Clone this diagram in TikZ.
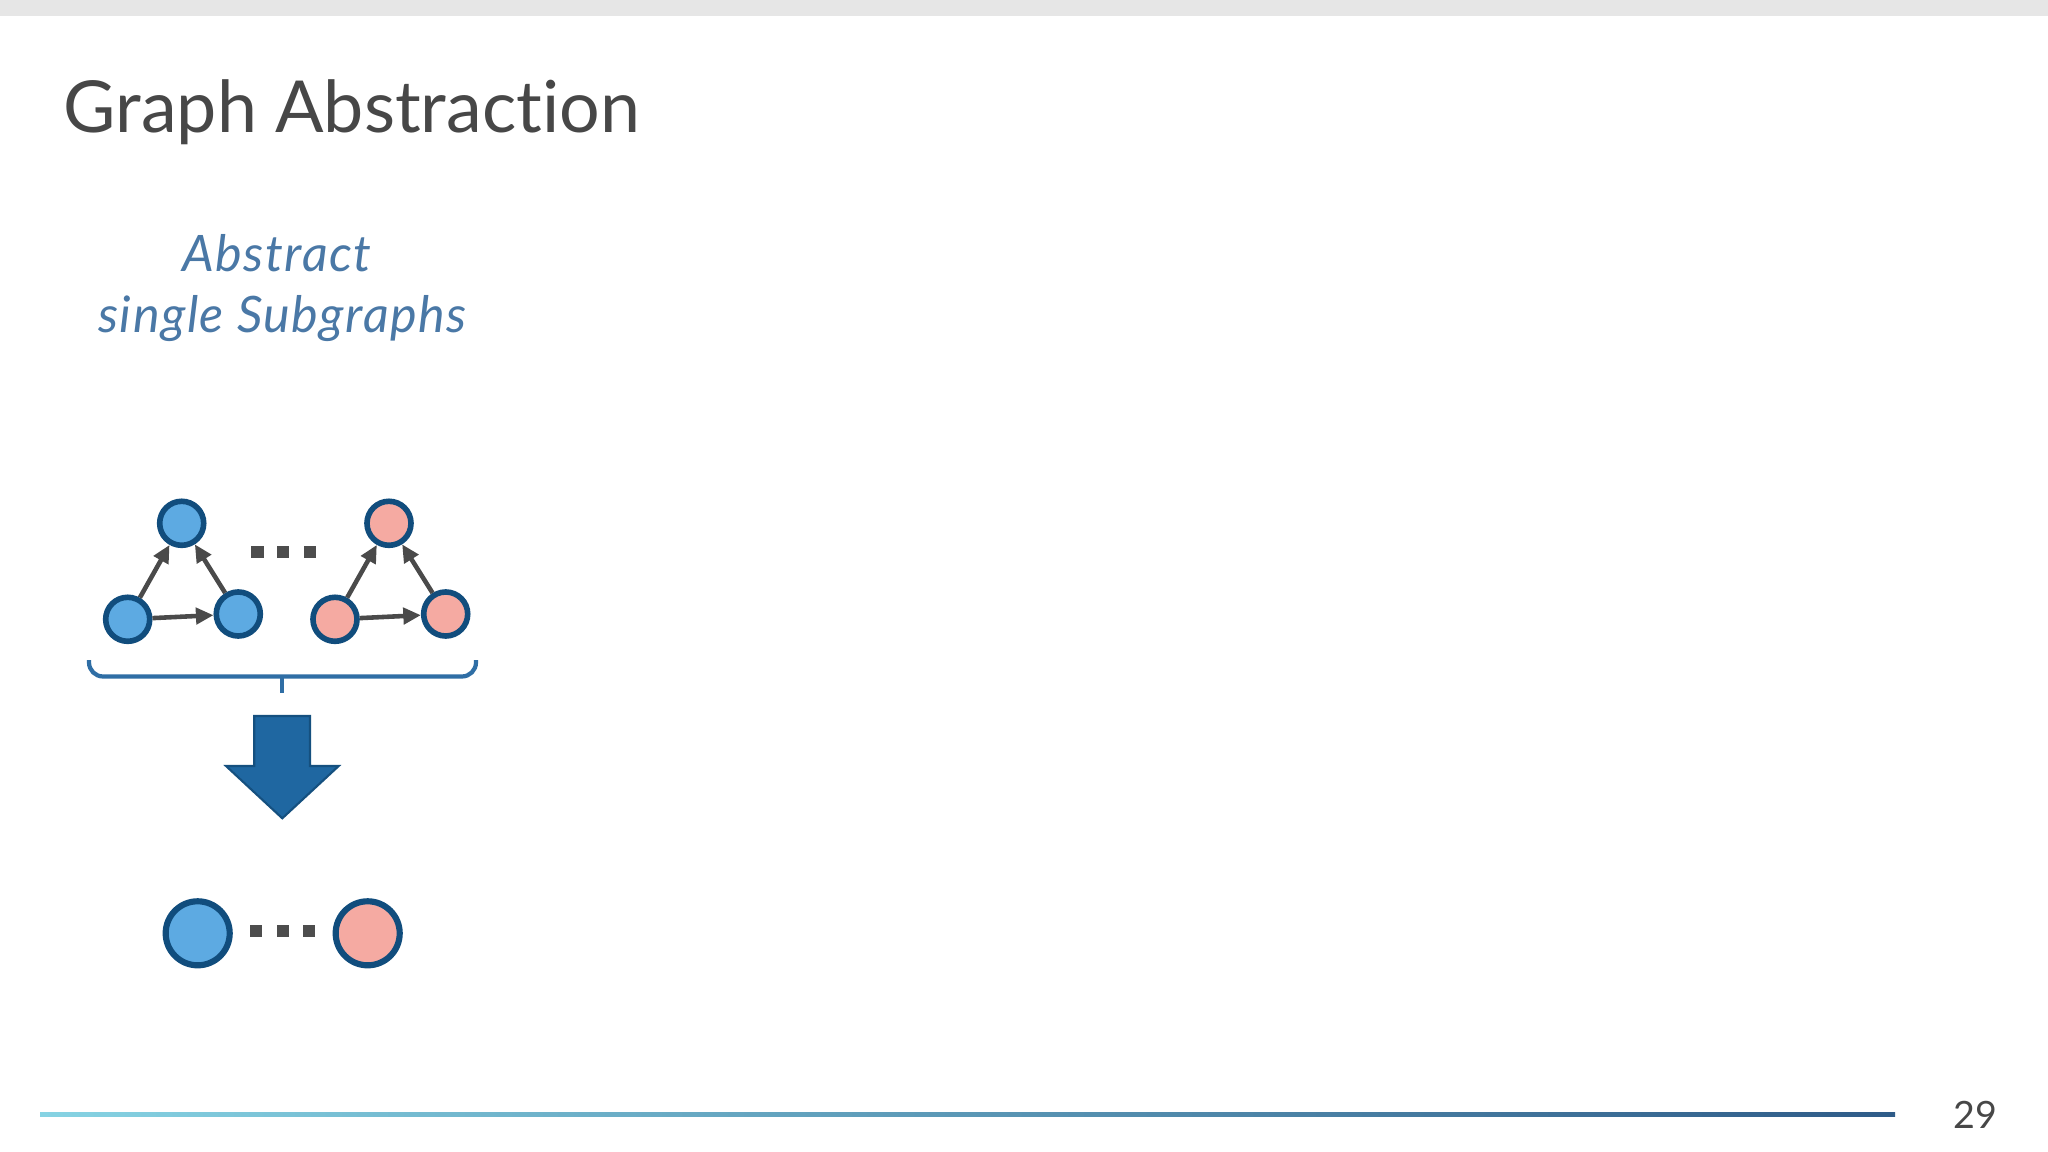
\documentclass[tikz,border=0pt]{standalone}
\usepackage{fontspec}
\setmainfont{Lato}[Ligatures={NoCommon}]
\newfontfamily\subfont{Lato}[Ligatures={NoCommon}, LetterSpace=3]
\usetikzlibrary{arrows.meta}
\definecolor{barGray}{HTML}{E6E6E6}
\definecolor{titleGray}{HTML}{474747}
\definecolor{subBlue}{HTML}{4A78A6}
\definecolor{nodeBlue}{HTML}{5DAAE2}
\definecolor{nodePink}{HTML}{F5AAA2}
\definecolor{nodeRim}{HTML}{114D7D}
\definecolor{edgeGray}{HTML}{4A4A4A}
\definecolor{dotGray}{HTML}{4D4D4D}
\definecolor{braceBlue}{HTML}{2F6EA5}
\definecolor{arrowFill}{HTML}{1F67A1}
\definecolor{arrowRim}{HTML}{15507F}
\definecolor{lineStart}{HTML}{86D3E3}
\definecolor{lineEnd}{HTML}{2E5B88}
\tikzset{
  smallnode/.style={circle, draw=nodeRim, line width=1.6pt, minimum size=0.44cm, inner sep=0pt},
  bignode/.style={circle, draw=nodeRim, line width=1.75pt, minimum size=0.64cm, inner sep=0pt},
  blue/.style={fill=nodeBlue},
  pink/.style={fill=nodePink},
  edgearrow/.style={draw=edgeGray, line width=1.3pt, -{Triangle[length=5pt,width=4.6pt]}},
  dotsq/.style={rectangle, fill=dotGray, minimum size=0.12cm, inner sep=0pt},
}
\begin{document}
\begin{tikzpicture}[x=0.01cm,y=-0.01cm]
\useasboundingbox (0,0) rectangle (2048,1152);
\fill[white] (0,0) rectangle (2048,1152);
\fill[barGray] (0,0) rectangle (2048,16);
% title
\node[anchor=base west, inner sep=0pt, text=titleGray, font=\fontsize{20.4pt}{24pt}\selectfont] (title) at (63,133) {Graph Abstraction};
% subtitle
\node[anchor=base, inner sep=0pt, text=subBlue, font=\subfont\fontsize{14.3pt}{17pt}\selectfont\itshape] (sub1) at (277,272) {Abstract};
\node[anchor=base, inner sep=0pt, text=subBlue, font=\subfont\fontsize{14.3pt}{17pt}\selectfont\itshape] (sub2) at (282.5,333) {single Subgraphs};
% blue subgraph
\node[smallnode, blue] (bt) at (181.7,523.3) {};
\node[smallnode, blue] (bl) at (127.7,619.3) {};
\node[smallnode, blue] (br) at (238.3,614) {};
\draw[edgearrow] (bl) -- (bt);
\draw[edgearrow] (br) -- (bt);
\draw[edgearrow] (bl) -- (br);
% pink subgraph
\node[smallnode, pink] (pt) at (389,523.3) {};
\node[smallnode, pink] (pl) at (335,619.3) {};
\node[smallnode, pink] (pr) at (445.7,614) {};
\draw[edgearrow] (pl) -- (pt);
\draw[edgearrow] (pr) -- (pt);
\draw[edgearrow] (pl) -- (pr);
% dots top
\node[dotsq] (td1) at (257.5,552) {};
\node[dotsq] (td2) at (283.3,552) {};
\node[dotsq] (td3) at (309.5,552) {};
% brace
\draw[braceBlue, line width=1.2pt, rounded corners=4] (89,660) |- (476,676.5) -- (476,660);
\draw[braceBlue, line width=1.2pt] (282.3,676.5) -- (282.3,692.7);
% big arrow
\draw[fill=arrowFill, draw=arrowRim, line width=0.6pt, line join=miter]
  (254.3,716) -- (310,716) -- (310,766) -- (338.7,766) -- (282.3,818.3) -- (226,766) -- (254.3,766) -- cycle;
% bottom abstracted nodes
\node[bignode, blue] (ab) at (197.7,933.3) {};
\node[bignode, pink] (ap) at (367.7,933.3) {};
\node[dotsq] (bd1) at (256.4,930.7) {};
\node[dotsq] (bd2) at (282.7,930.7) {};
\node[dotsq] (bd3) at (309.2,930.7) {};
% footer line
\shade[left color=lineStart, right color=lineEnd] (40,1112) rectangle (1895,1116);
\node[anchor=base west, inner sep=0pt, text=titleGray, font=\fontsize{10.7pt}{13pt}\selectfont] (pagenum) at (1953,1128) {29};
\end{tikzpicture}
\end{document}
